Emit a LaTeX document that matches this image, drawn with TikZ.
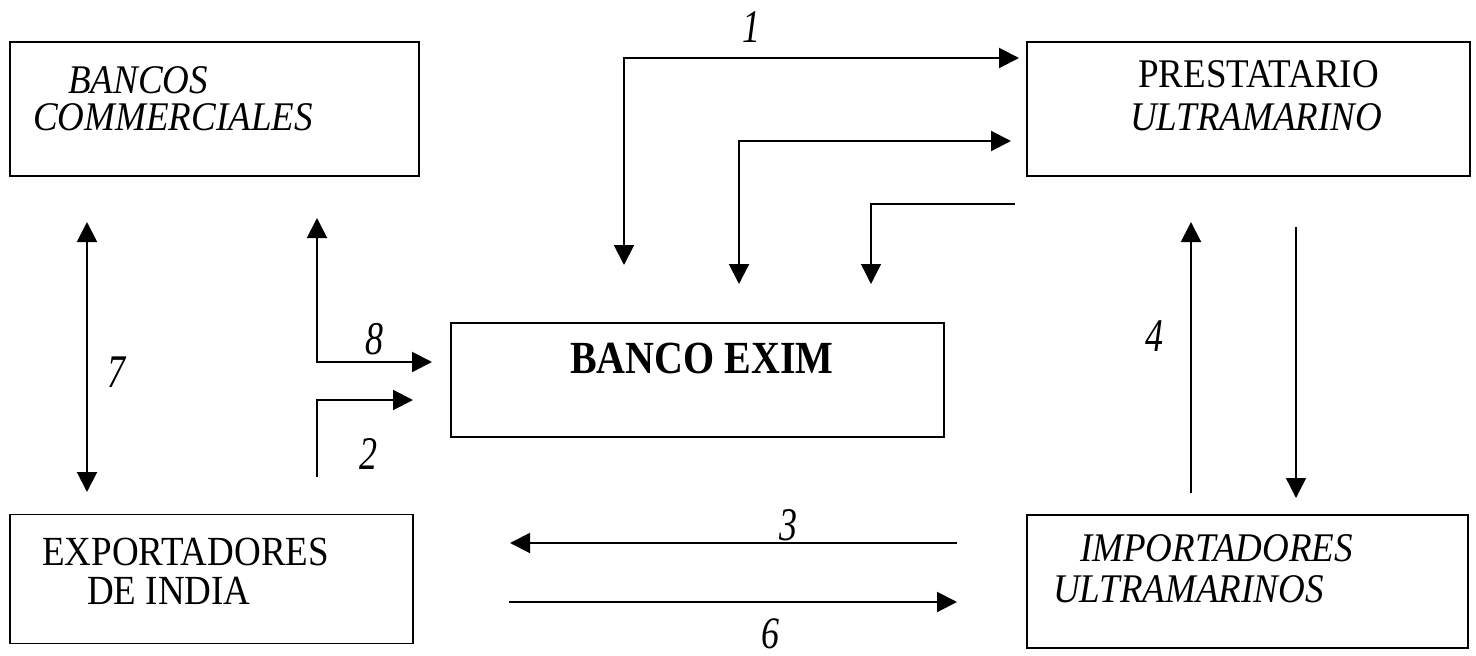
\documentclass[tikz,border=0pt]{standalone}
\usepackage{fontspec}
\usepackage{graphicx}
\setmainfont{Liberation Serif}
\usetikzlibrary{arrows.meta}
\begin{document}
\begin{tikzpicture}[x=1pt,y=-1pt,
  box/.style={draw,line width=1.8pt,minimum width=#1,inner sep=0pt,minimum height=134pt},
  txt/.style={anchor=base west,inner sep=0pt,font=\fontsize{37}{40}\selectfont},
  num/.style={anchor=center,inner sep=0pt,font=\fontsize{36}{40}\selectfont\itshape},
  conn/.style={line width=2pt,-{Triangle[length=20pt,width=20pt]}},
  bconn/.style={line width=2pt,{Triangle[length=20pt,width=20pt]}-{Triangle[length=20pt,width=20pt]}},
  thin/.style={line width=1.4pt,-{Triangle[length=20pt,width=20pt]}}]
\useasboundingbox (0,0) rectangle (1476,656);
% boxes
\node[box=409pt] (bancos) at (214.5,109) {};
\node[box=443pt] (prest) at (1248.5,109) {};
\node[box=493pt,minimum height=114pt] (exim) at (697.5,380) {};
\node[box=403pt,minimum height=129pt] (export) at (211.5,579) {};
\node[box=441pt,minimum height=133pt] (import) at (1247.5,581.5) {};
% texts
\node[txt] (t1) at (68,93) {\scalebox{1}[1.1]{\itshape BANCOS}};
\node[txt] (t2) at (33,130) {\scalebox{1}[1.1]{\itshape COMMERCIALES}};
\node[txt] (t3) at (1138,87) {\scalebox{1}[1.1]{PRESTATARIO}};
\node[txt] (t4) at (1130,130) {\scalebox{1}[1.1]{\itshape ULTRAMARINO}};
\node[txt,font=\fontsize{40}{44}\selectfont\bfseries] (t5) at (570,373) {\scalebox{1}[1.15]{BANCO EXIM}};
\node[txt] (t6) at (42,565) {\scalebox{1}[1.12]{EXPORTADORES}};
\node[txt] (t7) at (87,604) {\scalebox{1}[1.12]{DE INDIA}};
\node[txt] (t8) at (1080,561) {\scalebox{1}[1.1]{\itshape IMPORTADORES}};
\node[txt] (t9) at (1053,602) {\scalebox{1}[1.1]{\itshape ULTRAMARINOS}};
% number labels
\node[num] (n1) at (751,27) {\scalebox{1}[1.3]{1}};
\node[num] (n8) at (374,339) {\scalebox{1}[1.3]{8}};
\node[num] (n2) at (368,454) {\scalebox{1}[1.3]{2}};
\node[num] (n3) at (788,525) {\scalebox{1}[1.3]{3}};
\node[num] (n4) at (1154,336) {\scalebox{1}[1.3]{4}};
\node[num] (n6) at (770,634) {\scalebox{1}[1.25]{6}};
\node[num] (n7) at (116,372) {\scalebox{1}[1.3]{7}};
% free ends
\coordinate (a1s) at (624,265); \coordinate (a1c) at (624,58); \coordinate (a1e) at (1019,58);
\coordinate (a2s) at (739,284); \coordinate (a2c) at (739,141); \coordinate (a2e) at (1011,141);
\coordinate (a3s) at (1015,204); \coordinate (a3c) at (871,204); \coordinate (a3e) at (871,284);
\coordinate (a8s) at (317,218); \coordinate (a8c) at (317,362); \coordinate (a8e) at (432,362);
\coordinate (b2s) at (317,477); \coordinate (b2c) at (317,400); \coordinate (b2e) at (413,400);
\coordinate (a7s) at (87,222); \coordinate (a7e) at (87,492);
\coordinate (a4s) at (1191,493); \coordinate (a4e) at (1191,222);
\coordinate (a5s) at (1296,227); \coordinate (a5e) at (1296,498);
\coordinate (h3s) at (957,543); \coordinate (h3e) at (510,543);
\coordinate (h6s) at (509,602); \coordinate (h6e) at (957,602);
% connectors
\draw[bconn] (a1s) -- (a1c) -- (a1e);
\draw[bconn] (a2s) -- (a2c) -- (a2e);
\draw[thin] (a3s) -- (a3c) -- (a3e);
\draw[bconn] (a8s) -- (a8c) -- (a8e);
\draw[conn] (b2s) -- (b2c) -- (b2e);
\draw[bconn] (a7s) -- (a7e);
\draw[conn] (a4s) -- (a4e);
\draw[thin] (a5s) -- (a5e);
\draw[conn] (h3s) -- (h3e);
\draw[conn] (h6s) -- (h6e);
\end{tikzpicture}
\end{document}
